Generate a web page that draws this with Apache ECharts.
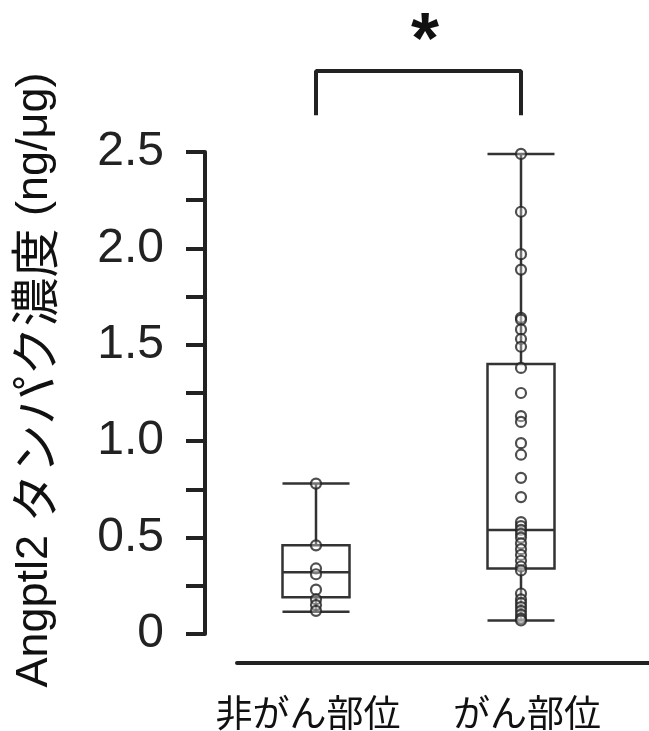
<!DOCTYPE html>
<html>
<head>
<meta charset="utf-8">
<script src="https://cdn.jsdelivr.net/npm/echarts@6/dist/echarts.min.js"></script>
<style>
html,body{margin:0;padding:0;background:#fff;}
#chart{width:649px;height:731px;}
</style>
</head>
<body>
<div id="chart"></div>
<script>
const categories = ['非がん部位', 'がん部位'];
const yTickLabels = ['0', '0.5', '1.0', '1.5', '2.0', '2.5'];
const yAxisTitleParts = ['Angptl2 ', 'タンパク濃度', ' (ng/μg)'];
// box statistics: [min, Q1, median, Q3, max]
const boxNonCancer = [0.115, 0.19, 0.32, 0.46, 0.78];
const boxCancer = [0.07, 0.34, 0.54, 1.40, 2.49];
// individual points
const pointsNonCancer = [0.78, 0.46, 0.34, 0.31, 0.23, 0.18, 0.15, 0.12];
const pointsCancer = [2.49, 2.19, 1.97, 1.89, 1.64, 1.63, 1.58, 1.53, 1.49, 1.38,
  1.25, 1.13, 1.10, 0.99, 0.93, 0.81, 0.71, 0.58, 0.56, 0.54, 0.52, 0.50, 0.47,
  0.44, 0.41, 0.38, 0.35, 0.33, 0.21, 0.18, 0.16, 0.14, 0.12, 0.10, 0.08, 0.07];
const significance = '*';

const chart = echarts.init(document.getElementById('chart'), null, {renderer: 'canvas'});
const scatterData = pointsNonCancer.map(v => [0, v]).concat(pointsCancer.map(v => [1, v]));
const fontLatin = '"Liberation Sans", Arial, "Noto Sans CJK JP", sans-serif';
const fontCJK = '"Noto Sans CJK JP", "Liberation Sans", sans-serif';

chart.setOption({
  animation: false,
  backgroundColor: '#fff',
  grid: [
    {left: 213.5, width: 410, top: 152, bottom: 93},
    {left: 237, right: 0, top: 152, bottom: 68}
  ],
  xAxis: [
    {
      type: 'category', gridIndex: 0, data: categories,
      axisLine: {show: false}, axisTick: {show: false}, splitLine: {show: false},
      axisLabel: {
        interval: 0, margin: 60, fontSize: 37, color: '#111', fontFamily: fontCJK,
        formatter: function (v, i) { return (i === 0 ? '{l|' : '{r|') + v + '}'; },
        rich: {
          l: {fontSize: 37, color: '#111', fontFamily: fontCJK, padding: [0, 16, 0, 0]},
          r: {fontSize: 37, color: '#111', fontFamily: fontCJK, padding: [0, 0, 0, 12]}
        }
      }
    },
    {
      type: 'value', gridIndex: 1, min: 0, max: 1,
      axisLine: {show: true, onZero: false, lineStyle: {color: '#222', width: 4}},
      axisTick: {show: false}, axisLabel: {show: false}, splitLine: {show: false}
    }
  ],
  yAxis: [
    {
      type: 'value', gridIndex: 0, min: 0, max: 2.5, interval: 0.25, offset: 8.5,
      name: '{a|' + yAxisTitleParts[0] + '}{b|' + yAxisTitleParts[1] + '}{a|' + yAxisTitleParts[2] + '}',
      nameLocation: 'middle', nameGap: 146, nameRotate: 90,
      nameTextStyle: {
        fontSize: 46, color: '#111', fontFamily: fontLatin, padding: [0, 0, 0, 26],
        rich: {
          a: {fontSize: 45, color: '#111', fontFamily: fontLatin},
          b: {fontSize: 49, color: '#111', fontFamily: fontCJK}
        }
      },
      axisLine: {show: true, lineStyle: {color: '#222', width: 4}},
      axisTick: {show: true, inside: false, length: 19, lineStyle: {color: '#222', width: 4}},
      axisLabel: {
        margin: 41, fontSize: 48, color: '#222', fontFamily: fontLatin,
        formatter: function (v) {
          const idx = Math.round(v / 0.5);
          if (Math.abs(v - idx * 0.5) < 1e-6) return yTickLabels[idx];
          return '';
        }
      },
      splitLine: {show: false}
    },
    {
      type: 'value', gridIndex: 1, show: false
    }
  ],
  series: [
    {
      type: 'boxplot', xAxisIndex: 0, yAxisIndex: 0,
      data: [boxNonCancer, boxCancer],
      boxWidth: [67, 67],
      itemStyle: {color: 'rgba(255,255,255,0)', borderColor: '#333', borderWidth: 2.5},
      z: 2
    },
    {
      type: 'scatter', xAxisIndex: 0, yAxisIndex: 0,
      data: scatterData, symbol: 'circle', symbolSize: 10,
      itemStyle: {color: 'rgba(255,255,255,0.4)', borderColor: '#222', borderWidth: 2.2},
      z: 3
    },
    {
      type: 'line', xAxisIndex: 0, yAxisIndex: 0, clip: false,
      data: [[0, 2.69], [0, 2.92], [1, 2.92], [1, 2.69]],
      symbol: 'none', lineStyle: {color: '#222', width: 4}, z: 4, silent: true
    }
  ],
  graphic: [
    {
      type: 'text', left: 411, top: 7,
      style: {text: significance, fontSize: 72, fontWeight: 'bold', fill: '#111', fontFamily: fontLatin}
    }
  ]
});
</script>
</body>
</html>
